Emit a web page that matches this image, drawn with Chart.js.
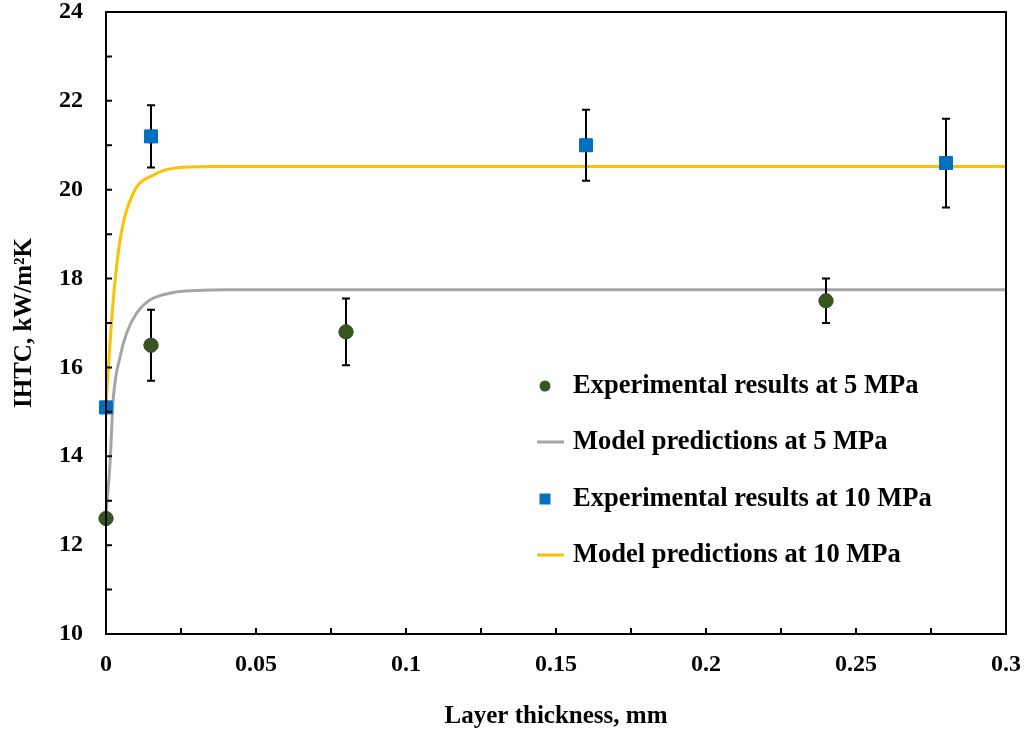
<!DOCTYPE html>
<html>
<head>
<meta charset="utf-8">
<script src="https://cdn.jsdelivr.net/npm/chart.js@4.4.0/dist/chart.umd.min.js"></script>
<style>
  html, body { margin: 0; padding: 0; background: #fff; }
  #wrap { width: 1027px; height: 736px; }
</style>
</head>
<body>
<div id="wrap"><canvas id="chart" width="1027" height="736"></canvas></div>
<script>
// Experimental data, 5 MPa
const exp5X = [0, 0.015, 0.08, 0.24];
const exp5Y = [12.6, 16.5, 16.8, 17.5];
const exp5Err = [0, 0.8, 0.75, 0.5];

// Experimental data, 10 MPa
const exp10X = [0, 0.015, 0.16, 0.28];
const exp10Y = [15.1, 21.2, 21.0, 20.6];
const exp10Err = [0, 0.7, 0.8, 1.0];

// Model curves
const model5X = [0, 0.0013, 0.0024, 0.0047, 0.0069, 0.0102, 0.0147, 0.022, 0.03, 0.04, 0.3];
const model5Y = [12.7, 13.8, 15.27, 16.24, 16.78, 17.22, 17.52, 17.68, 17.73, 17.75, 17.75];
const model10X = [0, 0.0008, 0.0024, 0.0047, 0.0091, 0.0158, 0.0224, 0.035, 0.3];
const model10Y = [15.1, 16.0, 17.5, 18.87, 19.92, 20.33, 20.48, 20.52, 20.52];

const legendLabels = [
    'Experimental results at 5 MPa',
    'Model predictions at 5 MPa',
    'Experimental results at 10 MPa',
    'Model predictions at 10 MPa'
];

const FONT = '"Liberation Serif", "Times New Roman", serif';
const pts = (xs, ys) => xs.map((x, i) => ({ x: x, y: ys[i] }));

// Error bars, inside ticks, frame and legend
const extras = {
    id: 'extras',
    afterDatasetsDraw(chart) {
        const ctx = chart.ctx;
        const xs = chart.scales.x, ys = chart.scales.y;
        const a = chart.chartArea;
        ctx.save();
        // error bars
        ctx.strokeStyle = '#000';
        ctx.lineWidth = 2;
        const bars = [[exp5X, exp5Y, exp5Err], [exp10X, exp10Y, exp10Err]];
        bars.forEach(([X, Y, E]) => {
            X.forEach((x, i) => {
                if (!E[i]) return;
                const px = xs.getPixelForValue(x);
                const top = ys.getPixelForValue(Y[i] + E[i]);
                const bot = ys.getPixelForValue(Y[i] - E[i]);
                ctx.beginPath();
                ctx.moveTo(px, top); ctx.lineTo(px, bot);
                ctx.moveTo(px - 4, top); ctx.lineTo(px + 4, top);
                ctx.moveTo(px - 4, bot); ctx.lineTo(px + 4, bot);
                ctx.stroke();
            });
        });
        // redraw markers above error bars
        chart.getDatasetMeta(0).data.forEach(p => p.draw(ctx, a));
        chart.getDatasetMeta(2).data.forEach(p => p.draw(ctx, a));

        // frame
        ctx.strokeStyle = '#000';
        ctx.lineWidth = 2;
        ctx.strokeRect(a.left, a.top, a.right - a.left, a.bottom - a.top);
        // inside ticks
        ctx.beginPath();
        for (let v = 10; v <= 24; v += 1) {
            const py = ys.getPixelForValue(v);
            ctx.moveTo(a.left, py); ctx.lineTo(a.left + 6, py);
        }
        for (let k = 0; k <= 12; k++) {
            const px = xs.getPixelForValue(k * 0.025);
            ctx.moveTo(px, a.bottom); ctx.lineTo(px, a.bottom - 6);
        }
        ctx.stroke();

        // legend
        const lx = 545, tx = 573;
        const rows = [386, 442, 499, 555];
        ctx.font = 'bold 26.5px ' + FONT;
        ctx.textBaseline = 'middle';
        rows.forEach((ry, i) => {
            const ds = chart.data.datasets[i];
            if (i === 0) {
                ctx.fillStyle = ds.backgroundColor;
                ctx.beginPath(); ctx.arc(lx, ry, 5.5, 0, Math.PI * 2); ctx.fill();
            } else if (i === 2) {
                ctx.fillStyle = ds.backgroundColor;
                ctx.fillRect(lx - 5.5, ry - 5.5, 11, 11);
            } else {
                ctx.strokeStyle = ds.borderColor;
                ctx.lineWidth = 3;
                ctx.beginPath(); ctx.moveTo(537, ry); ctx.lineTo(564, ry); ctx.stroke();
            }
            ctx.fillStyle = '#000';
            ctx.fillText(legendLabels[i], tx, ry);
        });
        ctx.restore();
    }
};

new Chart(document.getElementById('chart'), {
    type: 'line',
    data: {
        datasets: [
            {
                label: legendLabels[0],
                data: pts(exp5X, exp5Y),
                showLine: false,
                pointStyle: 'circle',
                pointRadius: 7,
                backgroundColor: '#375623',
                borderColor: '#375623',
                order: 1
            },
            {
                label: legendLabels[1],
                data: pts(model5X, model5Y),
                borderColor: '#A5A5A5',
                borderWidth: 3,
                pointRadius: 0,
                cubicInterpolationMode: 'monotone',
                order: 3
            },
            {
                label: legendLabels[2],
                data: pts(exp10X, exp10Y),
                showLine: false,
                pointStyle: 'rect',
                pointRadius: 9,
                backgroundColor: '#0070C0',
                borderColor: '#0070C0',
                order: 0
            },
            {
                label: legendLabels[3],
                data: pts(model10X, model10Y),
                borderColor: '#FFC000',
                borderWidth: 3,
                pointRadius: 0,
                cubicInterpolationMode: 'monotone',
                order: 2
            }
        ]
    },
    options: {
        responsive: false,
        animation: false,
        clip: false,
        layout: { padding: { top: 12, right: 21, left: 0, bottom: 0 } },
        plugins: { legend: { display: false }, tooltip: { enabled: false } },
        scales: {
            x: {
                type: 'linear',
                min: 0,
                max: 0.3,
                afterFit: s => { s.height = 102; s.paddingLeft = 0; s.paddingRight = 0; },
                grid: { drawOnChartArea: false, drawTicks: false },
                border: { display: false },
                ticks: {
                    stepSize: 0.05,
                    padding: 16,
                    color: '#000',
                    font: { family: FONT, size: 24, weight: 'bold' },
                    callback: v => String(Math.round(v * 100) / 100)
                },
                title: {
                    display: true,
                    text: 'Layer thickness, mm',
                    color: '#000',
                    font: { family: FONT, size: 25, weight: 'bold' },
                    padding: { top: 20 }
                }
            },
            y: {
                type: 'linear',
                min: 10,
                max: 24,
                afterFit: s => { s.width = 106; s.paddingTop = 0; s.paddingBottom = 0; },
                grid: { drawOnChartArea: false, drawTicks: false },
                border: { display: false },
                ticks: {
                    stepSize: 2,
                    padding: 23,
                    color: '#000',
                    font: { family: FONT, size: 24, weight: 'bold' }
                },
                title: {
                    display: true,
                    text: 'IHTC, kW/m²K',
                    color: '#000',
                    font: { family: FONT, size: 25, weight: 'bold' },
                    padding: { top: 10, bottom: 0 }
                }
            }
        }
    },
    plugins: [extras]
});
</script>
</body>
</html>
